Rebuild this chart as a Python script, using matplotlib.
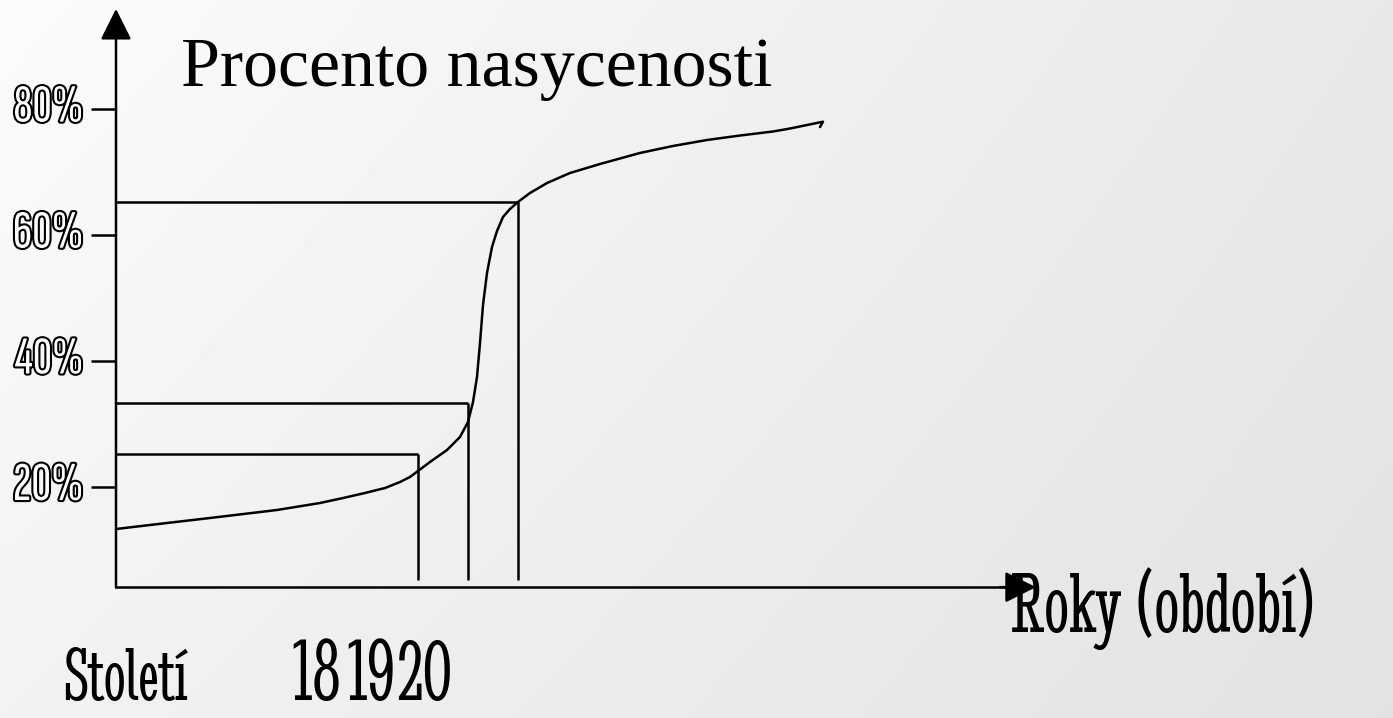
import numpy as np
import matplotlib
matplotlib.use("Agg")
import matplotlib.pyplot as plt
from matplotlib.font_manager import FontProperties
from matplotlib.textpath import TextPath
import matplotlib.patheffects as pe

# ---------------- data ----------------
# S-curve of saturation (% on y), x in arbitrary time units
curve_x = [0.0, 3.4, 9.4, 16.1, 20.4, 22.7, 24.9, 26.9, 28.4, 29.4, 30.2, 31.4,
           33.1, 34.4, 35.2, 35.7, 36.1, 36.4, 36.7, 37.1, 37.6, 38.1, 38.7,
           39.4, 40.2, 41.4, 43.1, 45.4, 48.4, 52.4, 55.7, 59.1, 62.4, 65.7,
           67.4, 69.1, 70.7, 70.4]
curve_y = [13.33, 13.97, 15.08, 16.35, 17.46, 18.25, 19.05, 19.84, 20.79, 21.59,
           22.54, 23.97, 25.87, 27.94, 30.32, 33.49, 37.46, 42.86, 48.89, 53.97,
           58.10, 60.63, 62.86, 64.13, 65.24, 66.67, 68.25, 69.84, 71.27, 73.02,
           74.13, 75.08, 75.79, 76.43, 76.90, 77.46, 77.98, 77.14]

# guide rectangles (vertical position, horizontal level)
guide_x = [30.2, 35.2, 40.2]
guide_y = [25.2, 33.3, 65.2]
guide_bottom = 5.2

y_ticks = [20, 40, 60, 80]
y_tick_labels = ["20%", "40%", "60%", "80%"]

title_text = "Procento nasycenosti"
x_axis_text = "Roky (období)"
century_word = "Století"
century_labels = ["18", "19", "20"]

axis_y0 = 4.1          # level of the horizontal axis
x_axis_end = 89.4
x_axis_tip = 92.0
y_axis_tip = 95.9

# ---------------- layout ----------------
W, H, DPI = 1393, 718, 100
X0_PX, PX_PER_X = 116.0, 10.0
Y0_PX, PX_PER_Y = 613.0, 6.3

fig = plt.figure(figsize=(W / DPI, H / DPI), dpi=DPI)
ax = fig.add_axes([0, 0, 1, 1])
ax.set_xlim((0 - X0_PX) / PX_PER_X, (W - X0_PX) / PX_PER_X)
ax.set_ylim((Y0_PX - H) / PX_PER_Y, (Y0_PX - 0) / PX_PER_Y)
ax.axis("off")

# background diagonal gradient
u = np.linspace(0, 1, 200)[None, :]
v = np.linspace(0, 1, 120)[:, None]
bg = (251 - 19 * u - 9 * v + 3 * u * v) / 255.0
ax.imshow(bg, cmap="gray", vmin=0, vmax=1, aspect="auto", interpolation="bilinear",
          extent=[*ax.get_xlim(), ax.get_ylim()[0], ax.get_ylim()[1]], origin="upper", zorder=0)

LW = 1.8
# guides
for gx, gy in zip(guide_x, guide_y):
    ax.plot([0, gx], [gy, gy], color="black", lw=LW, zorder=2, solid_capstyle="butt")
    ax.plot([gx, gx], [gy, guide_bottom], color="black", lw=LW, zorder=2, solid_capstyle="butt")

# curve
ax.plot(curve_x, curve_y, color="black", lw=LW, zorder=3, solid_capstyle="round",
        solid_joinstyle="round")

# axes with arrow heads
arrow = dict(arrowstyle="-|>,head_length=0.4,head_width=0.2", mutation_scale=48,
             lw=LW, color="black", shrinkA=0, shrinkB=0)
ax.annotate("", xy=(0, y_axis_tip), xytext=(0, axis_y0), arrowprops=arrow, zorder=4)
ax.plot([0, x_axis_end], [axis_y0, axis_y0], color="black", lw=LW, zorder=4)
ax.annotate("", xy=(x_axis_tip, axis_y0), xytext=(x_axis_end - 1, axis_y0),
            arrowprops=arrow, zorder=4)

# tick marks
for t in y_ticks:
    ax.plot([-2.5, 0], [t, t], color="black", lw=LW, zorder=4, solid_capstyle="butt")

# ---------------- text helpers ----------------
def metrics(s, fp, ref_char):
    ext = TextPath((0, 0), s, prop=fp, size=1).get_extents()
    cap = TextPath((0, 0), ref_char, prop=fp, size=1).get_extents().height
    return ext, cap

def place(s, fps, left, right, base_px, cap_px, ref_char="H", center_px=None,
          align="center", slack=1.0, **kw):
    # choose the candidate font whose proportions best match the box
    best = None
    for fp in fps:
        ext, cap = metrics(s, fp, ref_char)
        sw, sh = (right - left) / ext.width, cap_px / cap
        score = abs(np.log(sw / sh))
        if best is None or score < best[0]:
            best = (score, fp, ext, min(sw * slack, sh))
    _, fp, ext, s_px = best
    if align == "left":
        x0 = left - ext.xmin * s_px
    else:
        x0 = (left + right) / 2 - (ext.xmin + ext.width / 2) * s_px
    if center_px is not None:
        base_px = center_px + (ext.ymin + ext.height / 2) * s_px
    return fig.text(x0 / W, 1 - base_px / H, s, fontproperties=fp,
                    fontsize=s_px * 72 / DPI, ha="left", va="baseline", zorder=6, **kw)

serifs = [FontProperties(family=["Liberation Serif", "DejaVu Serif"]),
          FontProperties(family=["Stint Ultra Condensed", "DejaVu Serif"])]
tickfp = [FontProperties(family=["Sofia Sans Extra Condensed", "DejaVu Sans"], weight="bold")]

place(title_text, serifs, 205, 750, 86, 49, slack=1.08)
place(x_axis_text, serifs, 1012, 1380, 632, 59, align="left")
bottom_texts = [place(century_word, serifs, 65, 188, 712, 72)]
for lab, (l, r) in zip(century_labels, [(293, 339), (348, 393), (398, 450)]):
    bottom_texts.append(place(lab, serifs, l, r, 712, 72, ref_char="0"))

for t, lab in zip(y_ticks, y_tick_labels):
    py = H - ax.transData.transform((0, t))[1]
    place(lab, tickfp, 15, 81, None, 42, ref_char="0", center_px=py - 5,
          color="white", path_effects=[pe.withStroke(linewidth=3, foreground="black")])

# keep the bottom row's text boxes inside the picture
renderer = fig.canvas.get_renderer()
lift = max(0.0, max(1.0 - t.get_window_extent(renderer).y0 for t in bottom_texts))
for t in bottom_texts:
    x, y = t.get_position()
    t.set_position((x, y + lift / H))

fig.savefig("out.png", dpi=DPI)
